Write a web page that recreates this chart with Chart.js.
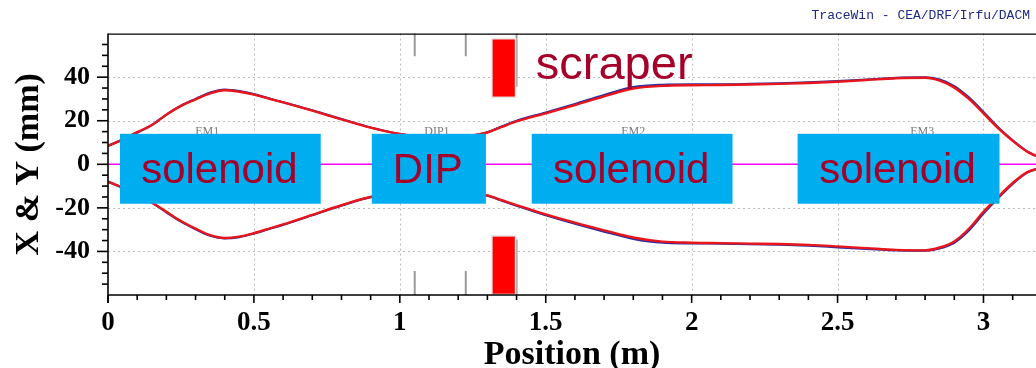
<!DOCTYPE html>
<html>
<head>
<meta charset="utf-8">
<script src="https://cdn.jsdelivr.net/npm/chart.js@4.4.1/dist/chart.umd.min.js"></script>
<style>
    html, body { margin: 0; padding: 0; background: #fff; }
    #wrap { width: 1036px; height: 368px; }
</style>
</head>
<body>
<div id="wrap"><canvas id="myChart" width="1036" height="368"></canvas></div>
<script>
// beam envelope along the line, position in m, envelopes in mm
var position = [0, 0.05, 0.1, 0.15, 0.2, 0.25, 0.3, 0.35, 0.4, 0.45, 0.5, 0.55, 0.6, 0.7, 0.8, 0.9, 1.0, 1.1, 1.2, 1.25, 1.3, 1.35, 1.4, 1.5, 1.6, 1.7, 1.8, 1.9, 2.0, 2.1, 2.2, 2.3, 2.4, 2.5, 2.6, 2.7, 2.8, 2.85, 2.9, 2.95, 3.0, 3.05, 3.1, 3.15, 3.18];
var yUpper = [8.5, 11.3, 14.8, 18.0, 22.8, 26.8, 29.8, 32.6, 34.0, 33.3, 32.0, 30.2, 28.4, 24.6, 20.6, 16.8, 13.9, 12.6, 12.6, 13.2, 14.6, 17.2, 19.7, 23.4, 27.2, 31.2, 34.8, 36.0, 36.3, 36.4, 36.6, 36.9, 37.3, 37.9, 38.7, 39.5, 39.7, 38.4, 35.2, 30.0, 23.4, 16.6, 10.8, 5.8, 3.8];
var yLower = [-8.0, -10.8, -14.0, -17.5, -21.8, -26.0, -29.5, -32.5, -33.8, -33.2, -31.6, -29.6, -27.6, -23.2, -18.8, -15.0, -13.6, -12.6, -12.6, -13.2, -14.3, -16.5, -18.7, -23.0, -26.8, -30.3, -33.6, -35.5, -36.0, -36.2, -36.4, -36.6, -37.0, -37.7, -38.5, -39.3, -39.5, -38.2, -35.4, -29.6, -21.8, -15.0, -8.6, -3.6, -2.2];
var xUpper = [8.5, 11.3, 14.5, 18.0, 22.8, 26.9, 30.0, 32.9, 34.3, 33.6, 32.2, 30.3, 28.5, 24.8, 20.8, 16.9, 13.9, 12.6, 12.6, 13.2, 14.7, 17.4, 20.0, 23.8, 27.7, 31.8, 35.4, 36.5, 36.7, 36.7, 36.9, 37.2, 37.6, 38.2, 38.9, 39.7, 39.9, 38.9, 35.9, 30.7, 24.0, 17.0, 11.0, 5.9, 3.8];
var xLower = [-8.0, -10.8, -14.0, -17.6, -22.0, -26.3, -29.8, -32.8, -34.0, -33.4, -31.8, -29.8, -27.8, -23.4, -19.0, -15.1, -13.6, -12.6, -12.6, -13.2, -14.4, -16.7, -19.0, -23.4, -27.3, -30.9, -34.2, -36.0, -36.3, -36.4, -36.6, -36.9, -37.4, -38.1, -38.8, -39.5, -39.6, -38.6, -36.0, -30.4, -22.6, -15.6, -9.0, -3.8, -2.2];

// tick labels
var xTicks = [0, 0.5, 1, 1.5, 2, 2.5, 3];
var yTicks = [-40, -20, 0, 20, 40];

// lattice elements (m) and marker extents (mm)
var elemNames = ['EM1', 'DIP1', 'EM2', 'EM3'];
var elemPos = [0.34, 1.127, 1.80, 2.79];
var markerPos = [1.051, 1.226, 1.40];
var markerTop = [49.6, 49.6, 35.6];
var markerBottom = [-49.0, -49.0, -34.5];
var scraperFrom = 1.318, scraperTo = 1.394;
var jawHigh = [57.3, -33.2];
var jawLow = [31.1, -59.4];

// slide callouts
var boxText = ['solenoid', 'DIP', 'solenoid', 'solenoid'];
var boxFrom = [0.041, 0.904, 1.452, 2.363];
var boxTo = [0.729, 1.295, 2.140, 3.055];

function pts(ys) {
    return position.map(function (p, i) { return { x: p, y: ys[i] }; });
}

function seg(c, x1, y1, x2, y2) {
    c.beginPath();
    c.moveTo(x1, y1);
    c.lineTo(x2, y2);
    c.stroke();
}

var overlay = {
    id: 'overlay',
    beforeDatasetsDraw: function (chart) {
        var c = chart.ctx, xs = chart.scales.x, ys = chart.scales.y, a = chart.chartArea;
        c.save();
        c.strokeStyle = '#bdbdbd';
        c.lineWidth = 1;
        c.setLineDash([2, 3]);
        xTicks.forEach(function (v) {
            if (v === 0) return;
            var px = Math.round(xs.getPixelForValue(v)) + 0.5;
            seg(c, px, a.top, px, a.bottom);
        });
        yTicks.forEach(function (v) {
            if (v === 0) return;
            var py = Math.round(ys.getPixelForValue(v)) + 0.5;
            seg(c, a.left, py, a.right, py);
        });
        c.restore();
    },
    afterDatasetsDraw: function (chart) {
        var c = chart.ctx, xs = chart.scales.x, ys = chart.scales.y, a = chart.chartArea;
        c.save();

        // element edges
        c.strokeStyle = '#9a9a9a';
        c.lineWidth = 2;
        markerPos.forEach(function (m, i) {
            var px = xs.getPixelForValue(m);
            seg(c, px, a.top, px, ys.getPixelForValue(markerTop[i]));
            seg(c, px, ys.getPixelForValue(markerBottom[i]), px, a.bottom);
        });

        // scraper jaws
        var sx1 = xs.getPixelForValue(scraperFrom), sx2 = xs.getPixelForValue(scraperTo);
        jawHigh.forEach(function (h, i) {
            var t = ys.getPixelForValue(h), b = ys.getPixelForValue(jawLow[i]);
            c.fillStyle = '#e6e6e6';
            c.fillRect(sx1 - 1.5, t - 1.5, sx2 - sx1 + 3, b - t + 3);
            c.fillStyle = '#ff0000';
            c.fillRect(sx1, t, sx2 - sx1, b - t);
        });

        // element names
        c.fillStyle = '#7a7a7a';
        c.font = '12px "Liberation Serif"';
        c.textAlign = 'center';
        c.textBaseline = 'middle';
        elemNames.forEach(function (n, i) {
            c.fillText(n, xs.getPixelForValue(elemPos[i]), ys.getPixelForValue(15.0));
        });

        // blue callout boxes
        var bt = ys.getPixelForValue(14.0), bb = ys.getPixelForValue(-18.1);
        c.font = '42px "Liberation Sans"';
        c.textBaseline = 'alphabetic';
        boxText.forEach(function (t, i) {
            var x1 = xs.getPixelForValue(boxFrom[i]), x2 = xs.getPixelForValue(boxTo[i]);
            c.fillStyle = '#00aeef';
            c.fillRect(x1, bt, x2 - x1, bb - bt);
            c.fillStyle = '#a5002a';
            c.fillText(t, (x1 + x2) / 2 - 1, bt + 49);
        });

        c.font = '47px "Liberation Sans"';
        c.textAlign = 'left';
        c.fillText('scraper', xs.getPixelForValue(1.466), ys.getPixelForValue(39.2));
        c.restore();
    },
    afterDraw: function (chart) {
        var c = chart.ctx, xs = chart.scales.x, ys = chart.scales.y, a = chart.chartArea;
        c.save();
        c.strokeStyle = '#000';
        c.lineWidth = 1.3;
        seg(c, a.left, a.top + 0.5, a.right, a.top + 0.5);
        c.lineWidth = 1.6;
        seg(c, a.left, a.top, a.left, a.bottom + 8);
        seg(c, a.left, a.bottom, a.right, a.bottom);

        // x ticks every 0.1 m
        for (var i = 0; i <= 31; i++) {
            var px = xs.getPixelForValue(i / 10);
            seg(c, px, a.bottom, px, a.bottom + (i % 5 === 0 ? 8 : 5));
        }
        // y ticks every 5 mm
        for (var j = -11; j <= 11; j++) {
            var py = ys.getPixelForValue(j * 5);
            seg(c, a.left, py, a.left - (j % 4 === 0 ? 11 : 6), py);
        }

        c.fillStyle = '#1f2a86';
        c.font = '13px "Liberation Mono"';
        c.textAlign = 'right';
        c.textBaseline = 'middle';
        c.fillText('TraceWin - CEA/DRF/Irfu/DACM', chart.width - 6, 16);
        c.restore();
    }
};

const ctx = document.getElementById('myChart');

new Chart(ctx, {
    type: 'line',
    data: {
        datasets: [{
            data: pts(yUpper),
            borderColor: '#e8161c',
            borderWidth: 2.4
        }, {
            data: pts(yLower),
            borderColor: '#e8161c',
            borderWidth: 2.4
        }, {
            data: pts(xUpper),
            borderColor: '#2e2e9c',
            borderWidth: 2.2
        }, {
            data: pts(xLower),
            borderColor: '#2e2e9c',
            borderWidth: 2.2
        }, {
            data: [{ x: 0, y: 0 }, { x: 3.18, y: 0 }],
            borderColor: '#ff00ff',
            borderWidth: 1.5
        }]
    },
    options: {
        responsive: false,
        animation: false,
        layout: { padding: { top: 30, left: 0, right: 0, bottom: 0 } },
        plugins: {
            legend: { display: false },
            tooltip: { enabled: false }
        },
        elements: {
            point: { radius: 0 },
            line: { cubicInterpolationMode: 'monotone' }
        },
        scales: {
            x: {
                type: 'linear',
                min: 0,
                max: 3.18,
                afterFit: function (s) { s.height = 73; },
                grid: { display: false, drawTicks: false },
                border: { display: false },
                ticks: {
                    stepSize: 0.5,
                    includeBounds: false,
                    autoSkip: false,
                    maxRotation: 0,
                    padding: 12,
                    color: '#000',
                    font: { family: 'Liberation Serif', size: 27, weight: 'bold' },
                    callback: function (v) { return xTicks.indexOf(v) >= 0 ? String(v) : ''; }
                },
                title: {
                    display: true,
                    text: 'Position (m)',
                    color: '#000',
                    padding: 0,
                    font: { family: 'Liberation Serif', size: 34, weight: 'bold', lineHeight: 0.74 }
                }
            },
            y: {
                min: -60,
                max: 60,
                afterFit: function (s) { s.width = 108; },
                grid: { display: false, drawTicks: false },
                border: { display: false },
                ticks: {
                    stepSize: 20,
                    autoSkip: false,
                    padding: 18,
                    color: '#000',
                    font: { family: 'Liberation Serif', size: 26, weight: 'bold' },
                    callback: function (v) { return yTicks.indexOf(v) >= 0 ? String(v) : ''; }
                },
                title: {
                    display: true,
                    text: 'X & Y (mm)',
                    color: '#000',
                    padding: { top: 15, bottom: 0 },
                    font: { family: 'Liberation Serif', size: 34, weight: 'bold', lineHeight: 0.82 }
                }
            }
        }
    },
    plugins: [overlay]
});
</script>
</body>
</html>
